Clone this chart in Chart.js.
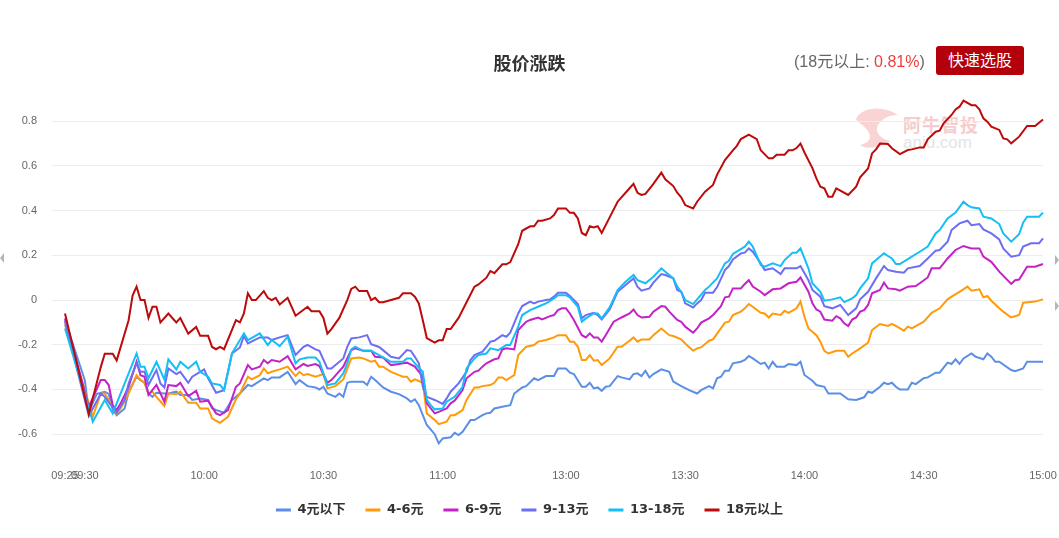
<!DOCTYPE html>
<html>
<head>
<meta charset="utf-8">
<title>股价涨跌</title>
<script src="https://cdn.jsdelivr.net/npm/chart.js@4.4.1/dist/chart.umd.min.js"></script>
<style>
  html, body { margin: 0; padding: 0; background: #fff; }
  #wrap { position: relative; width: 1059px; height: 538px; overflow: hidden;
          font-family: 'Liberation Sans', 'Noto Sans CJK SC', sans-serif; }
  #box { position: absolute; left: 0; top: 0; width: 1059px; height: 538px; z-index: 1; }
  .summary { position: absolute; left: 794px; top: 51px; font-size: 16px; color: #666; line-height: 22px; z-index: 2; white-space: nowrap; }
  .summary .up { color: #f23c3c; }
  .btn { position: absolute; left: 936px; top: 46px; width: 88px; height: 29px; background: #b3000a; color: #fff;
         border-radius: 3px; font-size: 16px; line-height: 29px; text-align: center; z-index: 2; }
  .wm-logo { position: absolute; left: 852px; top: 105px; z-index: 0; }
  .wm-cn { position: absolute; left: 903px; top: 111px; font-size: 18px; font-weight: bold; color: #f6cccc; letter-spacing: 1px; z-index: 0; }
  .wm-en { position: absolute; left: 903px; top: 133px; font-size: 17px; color: #e4e4e4; z-index: 0; }
  .edge { position: absolute; width: 0; height: 0; border-top: 5px solid transparent; border-bottom: 5px solid transparent; z-index: 2; }
  .edge.l { left: 0; top: 253px; border-right: 4px solid #b5b5b5; }
  .edge.r1 { left: 1055px; top: 255px; border-left: 4px solid #b5b5b5; }
  .edge.r2 { left: 1055px; top: 301px; border-left: 4px solid #b5b5b5; }
</style>
</head>
<body>
<div id="wrap">
  <svg class="wm-logo" width="50" height="48" viewBox="0 0 50 48">
    <path d="M4 14 C10 2 30 0 46 10 C36 10 30 14 26 20 C22 28 30 34 38 36 C28 44 12 44 8 40 C18 38 20 32 16 26 C12 20 6 18 4 14 Z" fill="#f8d4d4"/>
  </svg>
  <div class="wm-cn">阿牛智投</div>
  <div class="wm-en">aniu.com</div>
  <div id="box"><canvas id="chart"></canvas></div>
  <div class="summary">(18元以上: <span class="up">0.81%</span>)</div>
  <div class="btn">快速选股</div>
  <div class="edge l"></div>
  <div class="edge r1"></div>
  <div class="edge r2"></div>
</div>
<script>
// 分时刻度标签（显示用）
const shownTicks = ['09:25', '09:30', '10:00', '10:30', '11:00', '13:00', '13:30', '14:00', '14:30', '15:00'];

// 每分钟一个类目：09:25-11:30, 13:00-15:00
const minuteLabels = [];
function pushRange(from, to) {
    for (let m = from; m <= to; m++) {
        const h = Math.floor(m / 60), mm = m % 60;
        minuteLabels.push(String(h).padStart(2, '0') + ':' + String(mm).padStart(2, '0'));
    }
}
pushRange(9 * 60 + 25, 11 * 60 + 30);
pushRange(13 * 60, 15 * 60);

const seriesNames = ['4元以下', '4-6元', '6-9元', '9-13元', '13-18元', '18元以上'];
const seriesColors = ['#5b8fe6', '#ff9a0a', '#c322c6', '#6e6ef5', '#14bff5', '#bd0a0a'];

// 4元以下
const s4 = [['09:25',-0.09],['09:30',-0.36],['09:31',-0.50],['09:33',-0.42],['09:35',-0.41],['09:36',-0.42],['09:37',-0.49],['09:38',-0.515],['09:40',-0.485],['09:41',-0.41],['09:43',-0.343],['09:44',-0.358],['09:45',-0.37],['09:46',-0.418],['09:47',-0.433],['09:48',-0.415],['09:50',-0.418],['09:51',-0.418],['09:53',-0.41],['09:54',-0.425],['09:56',-0.425],['09:57',-0.447],['09:59',-0.44],['10:01',-0.447],['10:02',-0.485],['10:03',-0.492],['10:05',-0.504],['10:07',-0.447],['10:09',-0.418],['10:11',-0.38],['10:12',-0.385],['10:15',-0.35],['10:16',-0.358],['10:17',-0.346],['10:19',-0.346],['10:21',-0.321],['10:23',-0.376],['10:24',-0.358],['10:26',-0.385],['10:28',-0.391],['10:29',-0.40],['10:30',-0.388],['10:31',-0.418],['10:33',-0.433],['10:34',-0.418],['10:35',-0.433],['10:36',-0.37],['10:37',-0.365],['10:40',-0.365],['10:41',-0.38],['10:42',-0.343],['10:43',-0.358],['10:45',-0.391],['10:47',-0.41],['10:49',-0.421],['10:51',-0.44],['10:52',-0.455],['10:53',-0.444],['10:54',-0.47],['10:56',-0.559],['10:58',-0.60],['10:59',-0.641],['11:00',-0.619],['11:02',-0.614],['11:03',-0.594],['11:04',-0.604],['11:05',-0.589],['11:07',-0.537],['11:08',-0.537],['11:10',-0.515],['11:11',-0.507],['11:12',-0.504],['11:13',-0.485],['11:15',-0.477],['11:17',-0.47],['11:18',-0.418],['11:20',-0.391],['11:21',-0.385],['11:23',-0.35],['11:24',-0.358],['11:26',-0.34],['11:28',-0.34],['11:29',-0.306],['11:30',-0.306],
  ['13:00',-0.306],['13:01',-0.325],['13:02',-0.331],['13:04',-0.388],['13:05',-0.388],['13:06',-0.37],['13:07',-0.395],['13:08',-0.391],['13:09',-0.406],['13:10',-0.388],['13:11',-0.385],['13:13',-0.34],['13:14',-0.346],['13:16',-0.355],['13:17',-0.331],['13:18',-0.328],['13:19',-0.34],['13:20',-0.316],['13:21',-0.346],['13:22',-0.331],['13:24',-0.31],['13:26',-0.321],['13:27',-0.365],['13:29',-0.385],['13:31',-0.403],['13:33',-0.418],['13:34',-0.403],['13:36',-0.385],['13:37',-0.395],['13:38',-0.35],['13:39',-0.343],['13:40',-0.316],['13:41',-0.316],['13:42',-0.283],['13:44',-0.276],['13:45',-0.268],['13:46',-0.25],['13:47',-0.261],['13:49',-0.286],['13:50',-0.28],['13:51',-0.306],['13:52',-0.276],['13:53',-0.298],['13:55',-0.298],['13:56',-0.286],['13:58',-0.291],['13:59',-0.276],['14:00',-0.335],['14:02',-0.361],['14:03',-0.38],['14:05',-0.388],['14:06',-0.418],['14:09',-0.418],['14:11',-0.444],['14:13',-0.447],['14:15',-0.435],['14:16',-0.41],['14:17',-0.415],['14:19',-0.388],['14:20',-0.37],['14:21',-0.376],['14:22',-0.37],['14:23',-0.388],['14:24',-0.40],['14:26',-0.40],['14:27',-0.37],['14:28',-0.376],['14:30',-0.35],['14:31',-0.346],['14:33',-0.325],['14:34',-0.325],['14:36',-0.28],['14:37',-0.286],['14:38',-0.265],['14:39',-0.286],['14:40',-0.261],['14:42',-0.239],['14:43',-0.253],['14:45',-0.265],['14:46',-0.239],['14:47',-0.253],['14:48',-0.276],['14:49',-0.276],['14:52',-0.313],['14:53',-0.318],['14:55',-0.306],['14:56',-0.276],['15:00',-0.276]];

// 4-6元
const s46 = [['09:25',-0.11],['09:32',-0.522],['09:34',-0.418],['09:35',-0.418],['09:36',-0.447],['09:38',-0.507],['09:39',-0.485],['09:41',-0.418],['09:43',-0.336],['09:44',-0.358],['09:45',-0.37],['09:46',-0.418],['09:47',-0.41],['09:48',-0.433],['09:50',-0.474],['09:51',-0.418],['09:53',-0.421],['09:54',-0.41],['09:56',-0.459],['09:58',-0.459],['09:59',-0.485],['10:01',-0.485],['10:02',-0.529],['10:03',-0.54],['10:04',-0.549],['10:06',-0.522],['10:08',-0.444],['10:09',-0.418],['10:11',-0.343],['10:12',-0.355],['10:14',-0.336],['10:15',-0.306],['10:16',-0.328],['10:17',-0.321],['10:19',-0.31],['10:21',-0.298],['10:23',-0.34],['10:24',-0.321],['10:25',-0.336],['10:26',-0.331],['10:28',-0.343],['10:30',-0.331],['10:31',-0.395],['10:33',-0.385],['10:35',-0.355],['10:37',-0.261],['10:39',-0.257],['10:40',-0.261],['10:42',-0.276],['10:43',-0.271],['10:44',-0.298],['10:45',-0.298],['10:47',-0.321],['10:49',-0.336],['10:50',-0.343],['10:51',-0.343],['10:52',-0.365],['10:53',-0.355],['10:55',-0.37],['10:56',-0.507],['10:58',-0.537],['10:59',-0.555],['11:01',-0.544],['11:02',-0.515],['11:03',-0.515],['11:05',-0.492],['11:06',-0.447],['11:08',-0.391],['11:09',-0.391],['11:10',-0.385],['11:12',-0.38],['11:13',-0.37],['11:14',-0.346],['11:15',-0.346],['11:16',-0.358],['11:18',-0.336],['11:19',-0.246],['11:21',-0.209],['11:23',-0.201],['11:24',-0.186],['11:26',-0.179],['11:28',-0.167],['11:29',-0.157],['11:30',-0.157],
  ['13:00',-0.157],['13:01',-0.186],['13:02',-0.186],['13:03',-0.209],['13:04',-0.268],['13:05',-0.268],['13:06',-0.246],['13:07',-0.271],['13:08',-0.268],['13:09',-0.291],['13:11',-0.261],['13:13',-0.209],['13:14',-0.209],['13:16',-0.182],['13:17',-0.167],['13:18',-0.186],['13:19',-0.176],['13:21',-0.176],['13:22',-0.157],['13:24',-0.127],['13:26',-0.157],['13:27',-0.161],['13:29',-0.176],['13:30',-0.194],['13:32',-0.227],['13:33',-0.216],['13:34',-0.212],['13:36',-0.182],['13:37',-0.176],['13:40',-0.101],['13:41',-0.097],['13:42',-0.067],['13:44',-0.052],['13:45',-0.037],['13:46',-0.018],['13:47',-0.03],['13:49',-0.057],['13:50',-0.06],['13:51',-0.078],['13:52',-0.06],['13:54',-0.067],['13:55',-0.048],['13:56',-0.057],['13:58',-0.037],['13:59',-0.007],['14:00',-0.075],['14:01',-0.127],['14:03',-0.157],['14:04',-0.186],['14:05',-0.227],['14:06',-0.239],['14:08',-0.227],['14:10',-0.227],['14:11',-0.254],['14:12',-0.239],['14:14',-0.216],['14:16',-0.191],['14:17',-0.134],['14:19',-0.107],['14:21',-0.116],['14:22',-0.107],['14:23',-0.116],['14:25',-0.137],['14:26',-0.119],['14:27',-0.127],['14:30',-0.097],['14:32',-0.057],['14:34',-0.037],['14:36',0.003],['14:37',0.015],['14:39',0.037],['14:41',0.06],['14:42',0.042],['14:44',0.048],['14:45',0.012],['14:46',0.018],['14:47',-0.003],['14:49',-0.037],['14:50',-0.052],['14:52',-0.078],['14:54',-0.067],['14:55',-0.012],['14:58',-0.007],['15:00',0.003]];

// 6-9元
const s69 = [['09:25',-0.082],['09:31',-0.477],['09:34',-0.358],['09:35',-0.358],['09:36',-0.38],['09:37',-0.47],['09:38',-0.492],['09:39',-0.462],['09:41',-0.388],['09:43',-0.276],['09:44',-0.336],['09:45',-0.343],['09:46',-0.425],['09:48',-0.38],['09:50',-0.455],['09:51',-0.38],['09:53',-0.385],['09:54',-0.37],['09:56',-0.43],['09:58',-0.406],['09:59',-0.455],['10:01',-0.45],['10:03',-0.507],['10:04',-0.515],['10:06',-0.492],['10:08',-0.388],['10:09',-0.373],['10:11',-0.291],['10:12',-0.31],['10:14',-0.298],['10:15',-0.268],['10:16',-0.283],['10:17',-0.268],['10:19',-0.276],['10:21',-0.251],['10:23',-0.31],['10:25',-0.286],['10:26',-0.295],['10:28',-0.286],['10:29',-0.295],['10:31',-0.37],['10:32',-0.358],['10:35',-0.298],['10:37',-0.224],['10:38',-0.216],['10:40',-0.227],['10:42',-0.227],['10:43',-0.254],['10:45',-0.257],['10:47',-0.291],['10:49',-0.286],['10:50',-0.283],['10:51',-0.28],['10:53',-0.298],['10:55',-0.343],['10:56',-0.462],['10:58',-0.507],['10:59',-0.50],['11:01',-0.485],['11:02',-0.462],['11:03',-0.45],['11:05',-0.403],['11:06',-0.35],['11:08',-0.321],['11:09',-0.316],['11:10',-0.298],['11:11',-0.283],['11:13',-0.265],['11:14',-0.261],['11:15',-0.221],['11:16',-0.216],['11:18',-0.221],['11:19',-0.134],['11:21',-0.097],['11:22',-0.089],['11:24',-0.078],['11:25',-0.087],['11:27',-0.072],['11:28',-0.067],['11:29',-0.045],['11:30',-0.037],
  ['13:00',-0.037],['13:01',-0.06],['13:02',-0.089],['13:04',-0.157],['13:05',-0.167],['13:06',-0.149],['13:07',-0.167],['13:08',-0.167],['13:09',-0.186],['13:10',-0.157],['13:12',-0.097],['13:14',-0.078],['13:16',-0.06],['13:17',-0.042],['13:18',-0.067],['13:19',-0.078],['13:21',-0.075],['13:22',-0.052],['13:24',-0.027],['13:25',-0.03],['13:26',-0.052],['13:28',-0.089],['13:29',-0.097],['13:30',-0.119],['13:32',-0.146],['13:33',-0.127],['13:34',-0.101],['13:36',-0.082],['13:37',-0.067],['13:39',-0.027],['13:40',0.012],['13:41',0.015],['13:42',0.052],['13:44',0.052],['13:45',0.072],['13:46',0.089],['13:47',0.06],['13:49',0.037],['13:50',0.022],['13:52',0.048],['13:54',0.052],['13:56',0.075],['13:58',0.082],['13:59',0.101],['14:01',0.037],['14:02',-0.015],['14:03',-0.042],['14:04',-0.052],['14:05',-0.087],['14:07',-0.092],['14:08',-0.072],['14:09',-0.082],['14:10',-0.104],['14:11',-0.116],['14:12',-0.087],['14:13',-0.078],['14:14',-0.052],['14:15',-0.045],['14:16',-0.022],['14:17',0.03],['14:19',0.045],['14:20',0.078],['14:21',0.052],['14:23',0.048],['14:24',0.042],['14:26',0.06],['14:28',0.063],['14:29',0.075],['14:31',0.101],['14:32',0.142],['14:34',0.142],['14:36',0.186],['14:38',0.224],['14:40',0.242],['14:42',0.231],['14:44',0.231],['14:45',0.194],['14:47',0.171],['14:49',0.127],['14:52',0.072],['14:53',0.089],['14:54',0.092],['14:56',0.149],['14:58',0.149],['15:00',0.161]];

// 9-13元
const s913 = [['09:25',-0.097],['09:31',-0.519],['09:34',-0.418],['09:35',-0.433],['09:38',-0.504],['09:40',-0.447],['09:41',-0.373],['09:43',-0.283],['09:44',-0.321],['09:45',-0.321],['09:46',-0.38],['09:48',-0.313],['09:49',-0.373],['09:50',-0.391],['09:51',-0.306],['09:53',-0.331],['09:54',-0.321],['09:56',-0.37],['09:57',-0.343],['09:59',-0.321],['10:00',-0.31],['10:01',-0.35],['10:03',-0.415],['10:05',-0.403],['10:07',-0.239],['10:09',-0.212],['10:10',-0.161],['10:11',-0.194],['10:14',-0.167],['10:16',-0.167],['10:17',-0.179],['10:19',-0.167],['10:21',-0.157],['10:23',-0.246],['10:25',-0.209],['10:26',-0.201],['10:28',-0.221],['10:29',-0.227],['10:31',-0.306],['10:32',-0.306],['10:35',-0.261],['10:36',-0.209],['10:37',-0.172],['10:39',-0.167],['10:41',-0.157],['10:42',-0.197],['10:44',-0.21],['10:45',-0.224],['10:47',-0.254],['10:49',-0.261],['10:51',-0.224],['10:52',-0.227],['10:53',-0.254],['10:54',-0.283],['10:55',-0.388],['10:56',-0.433],['10:58',-0.447],['11:00',-0.465],['11:01',-0.44],['11:02',-0.41],['11:04',-0.373],['11:06',-0.321],['11:07',-0.268],['11:08',-0.246],['11:10',-0.231],['11:11',-0.209],['11:12',-0.186],['11:13',-0.182],['11:15',-0.157],['11:16',-0.164],['11:17',-0.146],['11:19',-0.06],['11:20',-0.027],['11:22',-0.007],['11:23',-0.015],['11:24',-0.007],['11:26',0],['11:27',0.003],['11:28',0.015],['11:29',0.033],['11:30',0.033],
  ['13:00',0.033],['13:01',0.018],['13:03',-0.018],['13:04',-0.082],['13:05',-0.067],['13:07',-0.057],['13:08',-0.067],['13:09',-0.087],['13:11',-0.042],['13:13',0.037],['13:15',0.067],['13:17',0.097],['13:18',0.06],['13:19',0.042],['13:21',0.052],['13:22',0.078],['13:24',0.116],['13:25',0.112],['13:27',0.097],['13:28',0.045],['13:29',0.037],['13:30',-0.015],['13:32',-0.033],['13:33',-0.015],['13:34',0],['13:35',0.033],['13:37',0.033],['13:38',0.057],['13:40',0.134],['13:41',0.152],['13:42',0.182],['13:44',0.209],['13:45',0.212],['13:46',0.231],['13:47',0.216],['13:49',0.164],['13:50',0.134],['13:52',0.142],['13:54',0.116],['13:55',0.142],['13:58',0.142],['13:59',0.152],['14:01',0.089],['14:02',0.045],['14:04',0.015],['14:05',-0.027],['14:07',-0.037],['14:09',-0.022],['14:11',-0.067],['14:13',-0.037],['14:14',0.003],['14:16',0.037],['14:18',0.097],['14:20',0.152],['14:21',0.134],['14:23',0.127],['14:25',0.122],['14:26',0.142],['14:29',0.152],['14:31',0.186],['14:33',0.221],['14:34',0.224],['14:36',0.261],['14:37',0.313],['14:39',0.343],['14:41',0.355],['14:42',0.335],['14:44',0.34],['14:45',0.316],['14:47',0.298],['14:49',0.271],['14:50',0.231],['14:52',0.194],['14:54',0.201],['14:55',0.239],['14:57',0.254],['14:59',0.254],['15:00',0.276]];

// 13-18元
const s1318 = [['09:25',-0.127],['09:32',-0.544],['09:35',-0.447],['09:37',-0.507],['09:43',-0.239],['09:44',-0.298],['09:45',-0.298],['09:46',-0.35],['09:48',-0.276],['09:50',-0.355],['09:51',-0.265],['09:53',-0.31],['09:54',-0.276],['09:56',-0.306],['09:58',-0.276],['09:59',-0.321],['10:01',-0.343],['10:02',-0.373],['10:04',-0.38],['10:05',-0.403],['10:07',-0.239],['10:10',-0.149],['10:11',-0.179],['10:14',-0.149],['10:16',-0.201],['10:17',-0.179],['10:19',-0.206],['10:21',-0.164],['10:23',-0.283],['10:24',-0.265],['10:26',-0.257],['10:28',-0.257],['10:29',-0.276],['10:31',-0.38],['10:33',-0.373],['10:35',-0.328],['10:36',-0.283],['10:37',-0.221],['10:38',-0.209],['10:40',-0.227],['10:42',-0.227],['10:44',-0.246],['10:47',-0.276],['10:50',-0.276],['10:51',-0.261],['10:52',-0.261],['10:53',-0.283],['10:55',-0.321],['10:56',-0.447],['10:57',-0.47],['10:58',-0.489],['11:00',-0.485],['11:01',-0.455],['11:03',-0.433],['11:05',-0.388],['11:06',-0.306],['11:08',-0.261],['11:09',-0.246],['11:11',-0.239],['11:12',-0.216],['11:14',-0.224],['11:16',-0.201],['11:17',-0.201],['11:19',-0.119],['11:20',-0.067],['11:22',-0.045],['11:24',-0.03],['11:25',-0.022],['11:26',-0.015],['11:28',0.007],['11:29',0.022],['11:30',0.022],
  ['13:00',0.022],['13:01',0.012],['13:03',-0.03],['13:04',-0.097],['13:05',-0.082],['13:07',-0.06],['13:08',-0.06],['13:09',-0.082],['13:11',-0.033],['13:13',0.045],['13:15',0.082],['13:17',0.112],['13:18',0.089],['13:20',0.075],['13:22',0.104],['13:24',0.142],['13:25',0.127],['13:27',0.097],['13:28',0.06],['13:29',0.037],['13:30',0],['13:32',-0.018],['13:33',0.003],['13:35',0.045],['13:36',0.06],['13:38',0.097],['13:40',0.164],['13:41',0.176],['13:42',0.206],['13:45',0.239],['13:46',0.261],['13:47',0.239],['13:49',0.157],['13:50',0.149],['13:52',0.164],['13:54',0.152],['13:55',0.179],['13:57',0.212],['13:58',0.212],['13:59',0.231],['14:01',0.142],['14:02',0.075],['14:04',0.037],['14:05',-0.003],['14:07',0.003],['14:09',0.012],['14:10',-0.009],['14:12',0.007],['14:13',0.022],['14:14',0.052],['14:16',0.097],['14:17',0.164],['14:18',0.179],['14:20',0.209],['14:21',0.197],['14:22',0.186],['14:23',0.161],['14:24',0.161],['14:27',0.194],['14:29',0.216],['14:31',0.239],['14:33',0.298],['14:34',0.313],['14:36',0.365],['14:38',0.391],['14:40',0.44],['14:41',0.425],['14:42',0.415],['14:44',0.41],['14:45',0.373],['14:47',0.365],['14:49',0.34],['14:50',0.298],['14:52',0.261],['14:54',0.295],['14:55',0.346],['14:56',0.373],['14:59',0.373],['15:00',0.391]];

// 18元以上
const s18 = [['09:25',-0.06],['09:31',-0.51],['09:34',-0.30],['09:35',-0.24],['09:37',-0.24],['09:38',-0.27],['09:41',-0.09],['09:42',0.02],['09:43',0.06],['09:44',0.00],['09:45',0.00],['09:46',-0.08],['09:47',-0.03],['09:48',-0.03],['09:49',-0.10],['09:51',-0.06],['09:53',-0.10],['09:54',-0.08],['09:56',-0.15],['09:58',-0.12],['09:59',-0.16],['10:01',-0.16],['10:02',-0.21],['10:03',-0.22],['10:04',-0.21],['10:05',-0.22],['10:08',-0.09],['10:09',-0.10],['10:10',-0.06],['10:11',0.03],['10:12',0.00],['10:13',0.00],['10:15',0.04],['10:16',0.01],['10:17',0.00],['10:18',0.01],['10:19',-0.02],['10:21',0.01],['10:23',-0.07],['10:26',-0.03],['10:27',-0.05],['10:29',-0.05],['10:30',-0.08],['10:31',-0.15],['10:32',-0.13],['10:34',-0.08],['10:36',0.00],['10:37',0.05],['10:38',0.06],['10:39',0.04],['10:41',0.04],['10:42',0.00],['10:43',0.01],['10:44',-0.01],['10:45',-0.01],['10:47',0.00],['10:49',0.01],['10:50',0.03],['10:52',0.03],['10:53',0.015],['10:54',-0.015],['10:55',-0.09],['10:56',-0.17],['10:58',-0.19],['10:59',-0.18],['11:00',-0.18],['11:01',-0.13],['11:02',-0.13],['11:04',-0.08],['11:06',-0.01],['11:08',0.06],['11:09',0.07],['11:11',0.10],['11:12',0.13],['11:13',0.12],['11:15',0.16],['11:16',0.16],['11:17',0.17],['11:19',0.25],['11:20',0.31],['11:22',0.33],['11:23',0.33],['11:24',0.355],['11:25',0.355],['11:27',0.365],['11:28',0.38],['11:29',0.41],['11:30',0.41],
  ['13:00',0.41],['13:01',0.39],['13:02',0.39],['13:03',0.365],['13:04',0.30],['13:05',0.29],['13:06',0.33],['13:07',0.325],['13:08',0.33],['13:09',0.30],['13:11',0.37],['13:13',0.44],['13:15',0.48],['13:17',0.52],['13:18',0.48],['13:19',0.47],['13:20',0.475],['13:22',0.52],['13:24',0.57],['13:25',0.54],['13:27',0.51],['13:28',0.48],['13:29',0.46],['13:30',0.425],['13:32',0.41],['13:33',0.44],['13:35',0.485],['13:37',0.515],['13:38',0.56],['13:40',0.626],['13:42',0.67],['13:43',0.69],['13:44',0.72],['13:45',0.73],['13:46',0.74],['13:48',0.72],['13:49',0.67],['13:51',0.634],['13:52',0.634],['13:53',0.65],['13:55',0.65],['13:56',0.67],['13:57',0.67],['13:58',0.68],['13:59',0.70],['14:00',0.66],['14:02',0.59],['14:03',0.544],['14:04',0.507],['14:05',0.50],['14:06',0.462],['14:07',0.462],['14:08',0.50],['14:11',0.47],['14:13',0.507],['14:14',0.549],['14:16',0.589],['14:17',0.656],['14:18',0.674],['14:19',0.70],['14:21',0.698],['14:22',0.679],['14:24',0.653],['14:26',0.671],['14:27',0.674],['14:29',0.683],['14:30',0.683],['14:31',0.719],['14:33',0.753],['14:34',0.758],['14:35',0.791],['14:37',0.828],['14:38',0.853],['14:39',0.865],['14:40',0.892],['14:42',0.872],['14:43',0.872],['14:44',0.853],['14:45',0.813],['14:46',0.798],['14:47',0.776],['14:49',0.761],['14:50',0.723],['14:51',0.719],['14:52',0.701],['14:54',0.731],['14:56',0.779],['14:58',0.779],['15:00',0.808]];

const seriesData = [s4, s46, s69, s913, s1318, s18];

Chart.defaults.font.family = "'Liberation Sans', 'Noto Sans CJK SC', sans-serif";

const datasets = seriesData.map((d, i) => ({
    label: seriesNames[i],
    data: d.map(p => ({ x: p[0], y: p[1] })),
    borderColor: seriesColors[i],
    backgroundColor: seriesColors[i],
    borderWidth: 2,
    pointRadius: 0,
    tension: 0,
    order: seriesData.length - i   // 后面的系列画在上层
}));

new Chart(document.getElementById('chart'), {
    type: 'line',
    data: { labels: minuteLabels, datasets: datasets },
    options: {
        responsive: true,
        maintainAspectRatio: false,
        animation: false,
        events: [],
        layout: { padding: { left: 0, right: 0, top: 0, bottom: 11.5 } },
        plugins: {
            title: {
                display: true,
                text: '股价涨跌',
                color: '#333',
                font: { size: 18, weight: 'bold' },
                padding: { top: 54, bottom: 18.8 }
            },
            legend: {
                position: 'bottom',
                labels: {
                    boxWidth: 15,
                    boxHeight: 3,
                    padding: 20,
                    color: '#333',
                    font: { family: "'DejaVu Sans', 'Noto Sans CJK SC', sans-serif", size: 13, weight: 'bold' },
                    sort: (a, b) => a.datasetIndex - b.datasetIndex,
                    generateLabels(chart) {
                        const items = Chart.defaults.plugins.legend.labels.generateLabels(chart);
                        items.forEach(it => { it.fillStyle = it.strokeStyle; it.lineWidth = 0; });
                        return items;
                    }
                }
            },
            tooltip: { enabled: false }
        },
        scales: {
            x: {
                type: 'category',
                grid: { display: false, drawTicks: false },
                border: { display: false },
                ticks: {
                    autoSkip: false,
                    maxRotation: 0,
                    padding: 8,
                    color: '#666',
                    font: { size: 11 },
                    callback: function(val, idx) {
                        const l = minuteLabels[idx];
                        return shownTicks.includes(l) ? l : null;
                    }
                },
                afterFit: s => { s.height = 22.5; s.paddingLeft = 0; s.paddingRight = 16; }
            },
            y: {
                min: -0.72,
                max: 0.92,
                grid: { color: '#ececec', lineWidth: 1, drawTicks: true, tickLength: 13 },
                border: { display: false },
                ticks: {
                    stepSize: 0.2,
                    includeBounds: false,
                    padding: 15,
                    color: '#666',
                    font: { size: 11 },
                    callback: v => String(Math.round(v * 10) / 10)
                },
                afterFit: s => { s.width = 65; }
            }
        }
    }
});
</script>
</body>
</html>
